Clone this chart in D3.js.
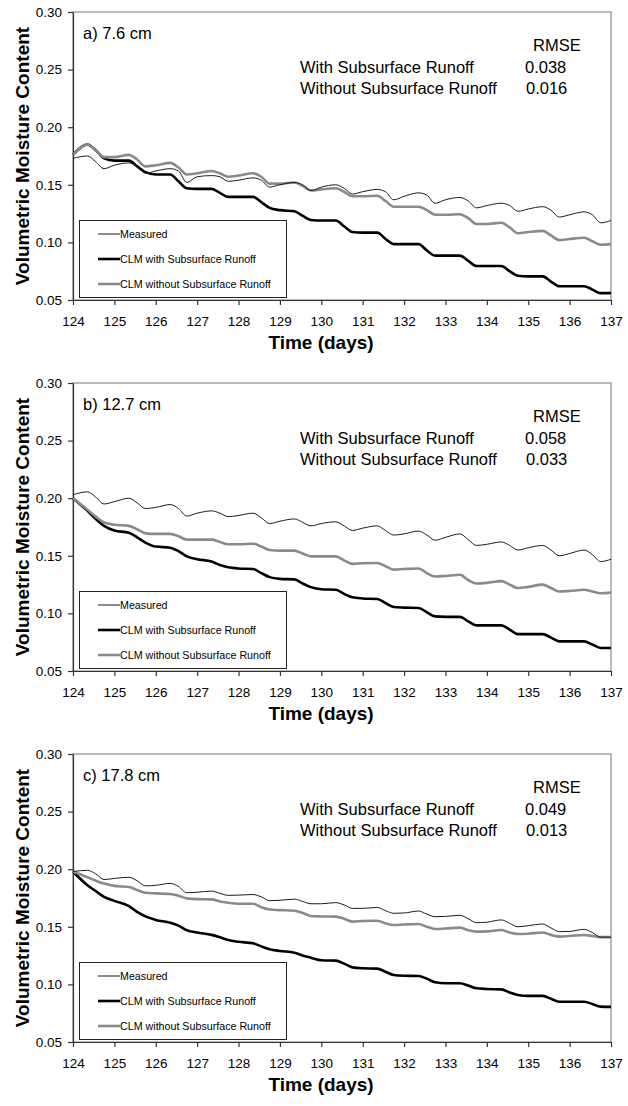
<!DOCTYPE html>
<html>
<head>
<meta charset="utf-8">
<script src="https://cdn.jsdelivr.net/npm/d3@7"></script>
<style>
  body { margin: 0; background: #fff; }
  svg text { font-family: "Liberation Sans", Arial, sans-serif; fill: #000; }
</style>
</head>
<body>
<div id="chart"></div>
<script>
// time grid: each day sampled at these fractions, plus the final day 137
const days = [124, 125, 126, 127, 128, 129, 130, 131, 132, 133, 134, 135, 136];
const dayFractions = [0, 0.35, 0.55, 0.75];
const lastDay = 137;

const yTicks = [0.05, 0.10, 0.15, 0.20, 0.25, 0.30];
const xTicks = [124, 125, 126, 127, 128, 129, 130, 131, 132, 133, 134, 135, 136, 137];

const panelLabels = ["a) 7.6 cm", "b) 12.7 cm", "c) 17.8 cm"];
const rmseWith = ["0.038", "0.058", "0.049"];
const rmseWithout = ["0.016", "0.033", "0.013"];
const seriesNames = ["Measured", "CLM with Subsurface Runoff", "CLM without Subsurface Runoff"];

// panel a) 7.6 cm
const measuredA = [0.173, 0.175, 0.170, 0.164, 0.167, 0.169, 0.166, 0.160, 0.162, 0.164, 0.162, 0.152,
  0.157, 0.158, 0.157, 0.153, 0.154, 0.156, 0.154, 0.148, 0.150, 0.152, 0.150, 0.145,
  0.148, 0.150, 0.147, 0.142, 0.144, 0.146, 0.144, 0.137, 0.140, 0.143, 0.141, 0.134,
  0.137, 0.139, 0.136, 0.130, 0.132, 0.134, 0.132, 0.127, 0.129, 0.131, 0.128, 0.122,
  0.124, 0.1265, 0.124, 0.117, 0.119];
const withRunoffA = [0.176, 0.185, 0.180, 0.173, 0.171, 0.171, 0.166, 0.161, 0.159, 0.159, 0.153, 0.147,
  0.1465, 0.1465, 0.143, 0.1395, 0.1395, 0.1395, 0.135, 0.130, 0.128, 0.127, 0.123, 0.1195,
  0.119, 0.119, 0.114, 0.109, 0.1085, 0.1085, 0.103, 0.0985, 0.0985, 0.0985, 0.093, 0.0885,
  0.0885, 0.0885, 0.084, 0.0795, 0.0795, 0.0795, 0.075, 0.071, 0.0705, 0.0705, 0.066, 0.062,
  0.062, 0.062, 0.059, 0.056, 0.056];
const withoutRunoffA = [0.176, 0.185, 0.180, 0.174, 0.174, 0.176, 0.172, 0.166, 0.167, 0.169, 0.165, 0.159,
  0.160, 0.162, 0.160, 0.157, 0.158, 0.160, 0.157, 0.151, 0.151, 0.152, 0.149, 0.145,
  0.146, 0.147, 0.144, 0.140, 0.140, 0.1405, 0.136, 0.131, 0.131, 0.131, 0.128, 0.124,
  0.124, 0.1245, 0.121, 0.116, 0.116, 0.117, 0.113, 0.108, 0.109, 0.110, 0.106, 0.102,
  0.103, 0.104, 0.101, 0.098, 0.0985];

// panel b) 12.7 cm
const measuredB = [0.203, 0.2055, 0.201, 0.195, 0.197, 0.200, 0.196, 0.191, 0.192, 0.1945, 0.191, 0.1845,
  0.187, 0.189, 0.187, 0.184, 0.185, 0.187, 0.183, 0.178, 0.180, 0.182, 0.179, 0.176,
  0.178, 0.1795, 0.176, 0.172, 0.174, 0.176, 0.172, 0.168, 0.169, 0.1715, 0.168, 0.1635,
  0.166, 0.169, 0.164, 0.159, 0.160, 0.162, 0.159, 0.155, 0.157, 0.159, 0.155, 0.150,
  0.152, 0.155, 0.151, 0.145, 0.147];
const withRunoffB = [0.200, 0.189, 0.182, 0.176, 0.172, 0.170, 0.166, 0.1615, 0.158, 0.157, 0.154, 0.1495,
  0.147, 0.145, 0.142, 0.140, 0.139, 0.1385, 0.135, 0.1315, 0.130, 0.1295, 0.126, 0.1228,
  0.121, 0.1205, 0.117, 0.114, 0.113, 0.1125, 0.109, 0.1055, 0.105, 0.1047, 0.101, 0.0974,
  0.097, 0.097, 0.093, 0.0896, 0.0896, 0.0896, 0.086, 0.082, 0.082, 0.082, 0.079, 0.0757,
  0.0757, 0.0757, 0.073, 0.070, 0.070];
const withoutRunoffB = [0.200, 0.190, 0.184, 0.179, 0.177, 0.176, 0.173, 0.1695, 0.169, 0.169, 0.167, 0.164,
  0.164, 0.164, 0.162, 0.160, 0.160, 0.1605, 0.158, 0.155, 0.1545, 0.1545, 0.152, 0.1495,
  0.1495, 0.1495, 0.146, 0.143, 0.1435, 0.1437, 0.141, 0.138, 0.1385, 0.139, 0.135, 0.132,
  0.1325, 0.1335, 0.129, 0.126, 0.1265, 0.128, 0.125, 0.122, 0.123, 0.125, 0.122, 0.119,
  0.1195, 0.1205, 0.119, 0.1175, 0.118];

// panel c) 17.8 cm
const measuredC = [0.198, 0.199, 0.196, 0.191, 0.192, 0.193, 0.190, 0.1855, 0.186, 0.1877, 0.185, 0.1796,
  0.180, 0.181, 0.179, 0.1773, 0.1775, 0.178, 0.176, 0.1727, 0.173, 0.174, 0.172, 0.170,
  0.170, 0.171, 0.169, 0.166, 0.166, 0.1668, 0.164, 0.1617, 0.162, 0.1637, 0.161, 0.1588,
  0.159, 0.160, 0.157, 0.1536, 0.154, 0.156, 0.153, 0.150, 0.151, 0.1524, 0.149, 0.1458,
  0.146, 0.1478, 0.145, 0.141, 0.141];
const withRunoffC = [0.198, 0.186, 0.181, 0.176, 0.1725, 0.168, 0.163, 0.159, 0.156, 0.1535, 0.151, 0.147,
  0.145, 0.143, 0.141, 0.1385, 0.137, 0.1357, 0.133, 0.1305, 0.129, 0.1275, 0.125, 0.1232,
  0.121, 0.1206, 0.118, 0.1148, 0.114, 0.1137, 0.111, 0.1082, 0.1075, 0.1073, 0.105, 0.1018,
  0.101, 0.101, 0.099, 0.0966, 0.096, 0.0957, 0.093, 0.0908, 0.090, 0.090, 0.0875, 0.085,
  0.085, 0.085, 0.083, 0.0807, 0.0805];
const withoutRunoffC = [0.198, 0.193, 0.190, 0.1875, 0.1855, 0.1845, 0.182, 0.1796, 0.179, 0.1785, 0.177, 0.1747,
  0.174, 0.1738, 0.172, 0.1709, 0.170, 0.170, 0.167, 0.165, 0.1645, 0.164, 0.162, 0.1594,
  0.159, 0.1588, 0.157, 0.1545, 0.155, 0.1553, 0.153, 0.1516, 0.152, 0.1524, 0.150, 0.1481,
  0.1485, 0.1493, 0.147, 0.1458, 0.146, 0.1472, 0.145, 0.1438, 0.144, 0.145, 0.143, 0.1415,
  0.142, 0.1429, 0.142, 0.141, 0.141];

const panelSeries = [
  [measuredA, withRunoffA, withoutRunoffA],
  [measuredB, withRunoffB, withoutRunoffB],
  [measuredC, withRunoffC, withoutRunoffC]
];

const times = [];
days.forEach(d => dayFractions.forEach(f => times.push(d + f)));
times.push(lastDay);

const W = 628, H = 1106;
const panelStep = 371;
const plot = {left: 73, right: 611, top: 12, bottom: 300};

const styles = [
  {color: "#1a1a1a", width: 1},
  {color: "#000000", width: 2.6},
  {color: "#8a8a8a", width: 2.6}
];

const svg = d3.select("#chart").append("svg")
  .attr("width", W)
  .attr("height", H);

svg.append("rect").attr("width", W).attr("height", H).attr("fill", "#fff");

const x = d3.scaleLinear().domain([124, 137]).range([plot.left, plot.right]);
const y = d3.scaleLinear().domain([0.05, 0.30]).range([plot.bottom, plot.top]);

const line = d3.line()
  .x(d => x(d.t))
  .y(d => y(d.v))
  .curve(d3.curveMonotoneX);

panelSeries.forEach((series, p) => {
  const g = svg.append("g").attr("transform", `translate(0,${p * panelStep})`);

  // plot frame (top and right in grey)
  g.append("rect")
    .attr("x", plot.left)
    .attr("y", plot.top)
    .attr("width", plot.right - plot.left)
    .attr("height", plot.bottom - plot.top)
    .attr("fill", "none")
    .attr("stroke", "#8c8c8c")
    .attr("stroke-width", 1.2);

  // axes
  const yAxis = g.append("g")
    .attr("transform", `translate(${plot.left},0)`)
    .call(d3.axisLeft(y).tickValues(yTicks).tickFormat(d3.format(".2f")).tickSize(5).tickSizeOuter(0).tickPadding(6));
  const xAxis = g.append("g")
    .attr("transform", `translate(0,${plot.bottom})`)
    .call(d3.axisBottom(x).tickValues(xTicks).tickFormat(d3.format("d")).tickSize(5).tickSizeOuter(0).tickPadding(11));

  [yAxis, xAxis].forEach(a => {
    a.select(".domain").attr("stroke", "#333").attr("stroke-width", 1.2);
    a.selectAll(".tick line").attr("stroke", "#333").attr("stroke-width", 1.2);
    a.selectAll(".tick text")
      .style("font-family", "'Liberation Sans', Arial, sans-serif")
      .style("font-size", "13.5px")
      .attr("fill", "#000");
  });

  // series lines: with, without, then measured on top
  [1, 2, 0].forEach(i => {
    const pts = times.map((t, k) => ({t: t, v: series[i][k]}));
    g.append("path")
      .datum(pts)
      .attr("fill", "none")
      .attr("stroke", styles[i].color)
      .attr("stroke-width", styles[i].width)
      .attr("stroke-linejoin", "round")
      .attr("d", line);
  });

  // panel label
  g.append("text")
    .attr("x", 83)
    .attr("y", 39)
    .style("font-size", "16.5px")
    .text(panelLabels[p]);

  // RMSE block
  g.append("text").attr("x", 533).attr("y", 51).style("font-size", "16.5px").text("RMSE");
  g.append("text").attr("x", 300).attr("y", 73).style("font-size", "16.5px").text("With Subsurface Runoff");
  g.append("text").attr("x", 300).attr("y", 94).style("font-size", "16.5px").text("Without Subsurface Runoff");
  g.append("text").attr("x", 525).attr("y", 73).style("font-size", "16.5px").text(rmseWith[p]);
  g.append("text").attr("x", 526).attr("y", 94).style("font-size", "16.5px").text(rmseWithout[p]);

  // legend
  const leg = g.append("g");
  leg.append("rect")
    .attr("x", 79.5)
    .attr("y", 220.5)
    .attr("width", 207)
    .attr("height", 77)
    .attr("fill", "#fff")
    .attr("stroke", "#222")
    .attr("stroke-width", 1);
  seriesNames.forEach((name, i) => {
    const ly = 234 + i * 25;
    leg.append("line")
      .attr("x1", 98).attr("x2", 120)
      .attr("y1", ly).attr("y2", ly)
      .attr("stroke", styles[i].color)
      .attr("stroke-width", styles[i].width);
    leg.append("text")
      .attr("x", 120)
      .attr("y", ly)
      .attr("dy", "0.35em")
      .style("font-size", "10.7px")
      .text(name);
  });

  // axis titles
  g.append("text")
    .attr("transform", `translate(29,${(plot.top + plot.bottom) / 2}) rotate(-90)`)
    .attr("text-anchor", "middle")
    .style("font-size", "19px")
    .style("font-weight", "bold")
    .text("Volumetric Moisture Content");
  g.append("text")
    .attr("x", 321)
    .attr("y", 349)
    .attr("text-anchor", "middle")
    .style("font-size", "19px")
    .style("font-weight", "bold")
    .text("Time (days)");
});
</script>
</body>
</html>
